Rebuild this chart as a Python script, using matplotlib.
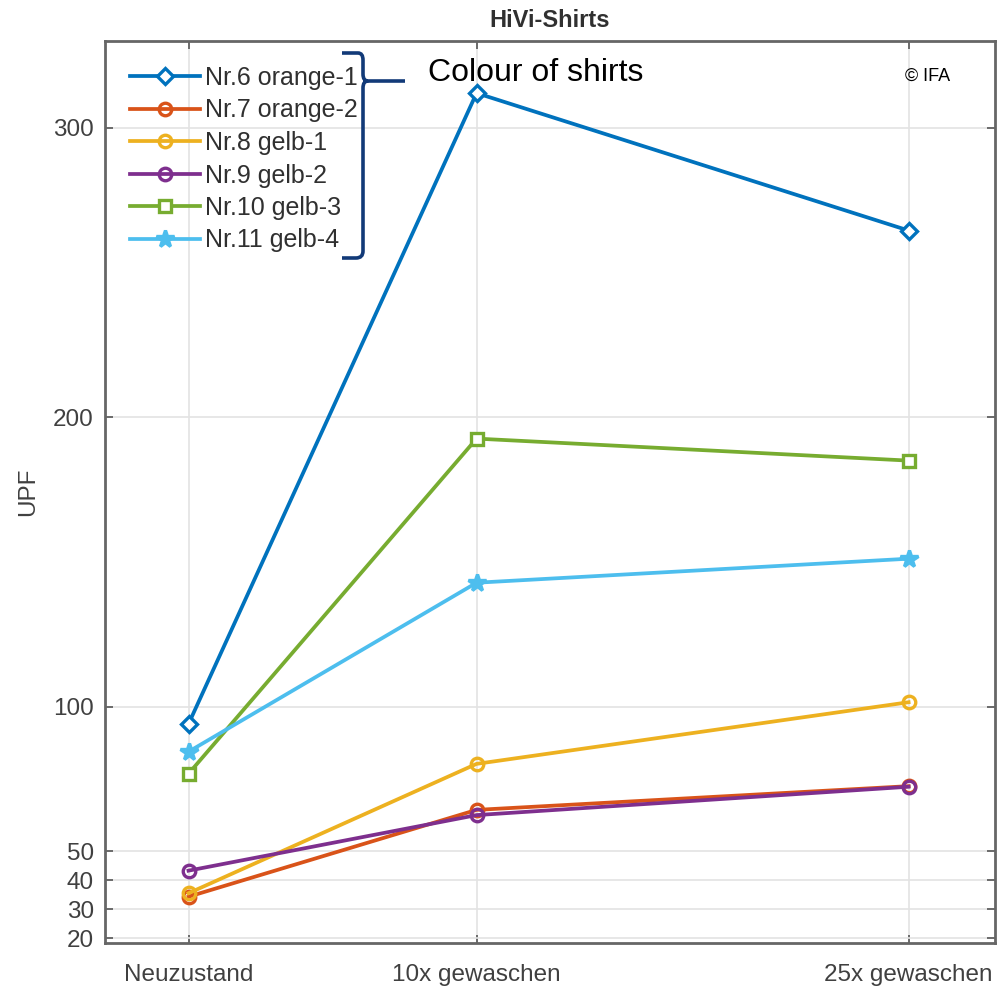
import matplotlib
matplotlib.use("Agg")
import matplotlib.pyplot as plt
from matplotlib.path import Path
from matplotlib.patches import PathPatch

plt.rcParams['font.family'] = ['Liberation Sans', 'DejaVu Sans']

washes = [0, 10, 25]
tick_labels = ['Neuzustand', '10x gewaschen', '25x gewaschen']
series_names = ['Nr.6 orange-1', 'Nr.7 orange-2', 'Nr.8 gelb-1',
                'Nr.9 gelb-2', 'Nr.10 gelb-3', 'Nr.11 gelb-4']
upf_nr6 = [94.0, 312.0, 264.5]
upf_nr7 = [34.3, 64.3, 72.5]
upf_nr8 = [35.5, 80.2, 101.5]
upf_nr9 = [43.3, 62.5, 72.3]
upf_nr10 = [76.8, 192.6, 185.0]
upf_nr11 = [84.4, 142.8, 151.1]
y_ticks = [20, 30, 40, 50, 100, 200, 300]

series = [upf_nr6, upf_nr7, upf_nr8, upf_nr9, upf_nr10, upf_nr11]
colors = ['#0072BD', '#D95319', '#EDB120', '#7E2F8E', '#77AC30', '#4DBEEE']
markers = ['D', 'o', 'o', 'o', 's', '*']
msizes = [8, 9, 9, 9, 8, 13]
mfaces = ['white', 'none', 'none', 'none', 'white', None]

fig = plt.figure(figsize=(10, 9.86), dpi=100)
ax = fig.add_axes([0.105, 1 - 943 / 986, 0.890, (943 - 41) / 986])

txtc = '#404040'
for vals, name, c, m, ms, mf in zip(series, series_names, colors, markers, msizes, mfaces):
    kw = dict(color=c, lw=2.7, marker=m, markersize=ms, markeredgewidth=2.4,
              markeredgecolor=c, label=name, zorder=3)
    if mf is not None:
        kw['markerfacecolor'] = mf
    ax.plot(washes, vals, **kw)

ax.set_xlim(-2.9, 28.0)
ax.set_ylim(18.3, 330)
ax.set_xticks(washes)
ax.set_xticklabels(tick_labels)
ax.set_yticks(y_ticks)
ax.grid(True, color='#e3e3e3', lw=1.2, zorder=0)
ax.set_axisbelow(True)
ax.tick_params(direction='in', length=6, width=1.2, colors='#555555', labelsize=17.5,
               top=True, right=True, pad=8)
ax.tick_params(axis='x', pad=15)
for lab in ax.get_xticklabels() + ax.get_yticklabels():
    lab.set_color(txtc)
for s in ax.spines.values():
    s.set_color('#666666')
    s.set_linewidth(2.0)

ax.set_ylabel('UPF', fontsize=17.5, color=txtc, labelpad=10)
ax.set_title('HiVi-Shirts', fontsize=17, fontweight='bold', color='#303030', pad=10)

leg = ax.legend(loc='upper left', bbox_to_anchor=(130 / 1000, 1 - 66 / 986),
                bbox_transform=fig.transFigure, frameon=False, fontsize=18,
                handlelength=2.8, handletextpad=0.2, labelspacing=0.34,
                borderpad=0, borderaxespad=0)
for t in leg.get_texts():
    t.set_color('#303030')

# brace annotation (figure pixel coordinates)
W, H = 1000, 986
def P(x, y):
    return (x / W, 1 - y / H)
verts = [P(342, 53), P(358, 53), P(363, 53), P(363, 60), P(363, 74),
         P(363, 81), P(368, 81), P(405, 81),
         P(368, 81), P(363, 81), P(363, 88),
         P(363, 251), P(363, 258), P(356, 258), P(342, 258)]
codes = [Path.MOVETO, Path.LINETO, Path.CURVE3, Path.CURVE3, Path.LINETO,
         Path.CURVE3, Path.CURVE3, Path.LINETO,
         Path.MOVETO, Path.CURVE3, Path.CURVE3,
         Path.LINETO, Path.CURVE3, Path.CURVE3, Path.LINETO]
fig.add_artist(PathPatch(Path(verts, codes), transform=fig.transFigure,
                         fill=False, edgecolor='#123a78', lw=2.6))
fig.text(428 / W, 1 - 73 / H, 'Colour of shirts', fontsize=23, color='black',
         va='center', ha='left')
fig.text(905 / W, 1 - 76 / H, '© IFA', fontsize=13, color='black',
         va='center', ha='left')

fig.savefig('out.png', dpi=100)
